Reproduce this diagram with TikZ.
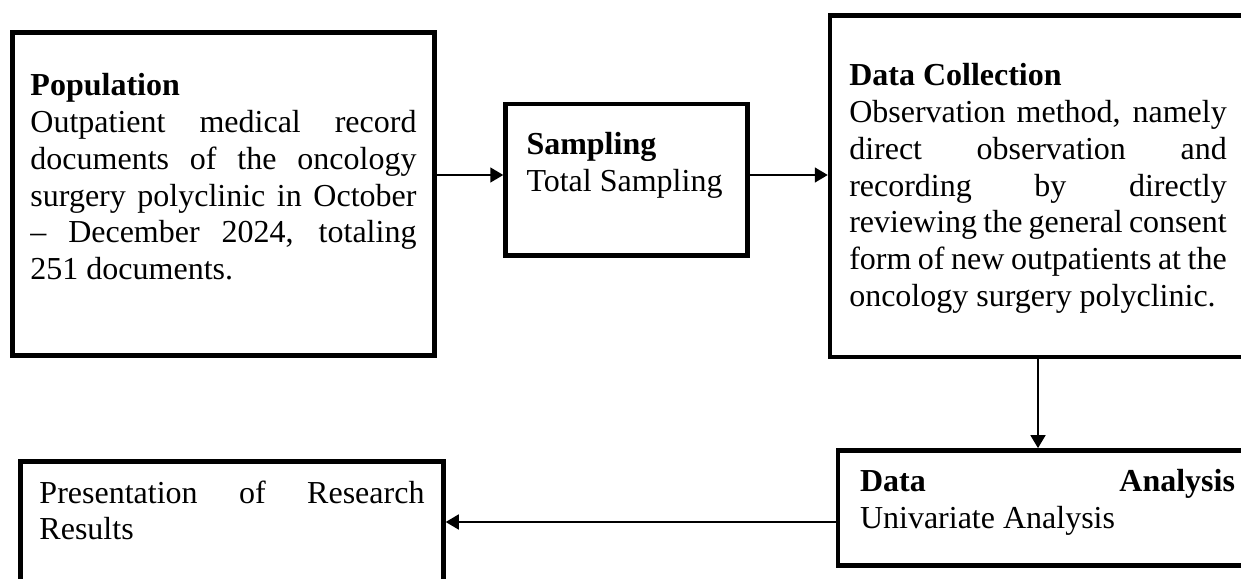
\documentclass[tikz,border=0pt]{standalone}
\usepackage{fontspec}
\setmainfont{Liberation Serif}
\usepackage{tikz}
\usetikzlibrary{arrows.meta,calc}
\tolerance=9999
\hfuzz=3pt
\tikzset{
  stage/.style={draw,line width=1.8pt,inner sep=0pt,align=justify,
    font=\fontsize{12.8}{14.7}\selectfont},
  flow/.style={-{Triangle[length=5.2pt,width=6pt]},line width=.7pt}
}

\begin{document}
\begin{tikzpicture}[x=.4pt,y=-.4pt]
  \useasboundingbox (0,0) rectangle (1241,579);
  \clip (0,0) rectangle (1241,579);
  \node[stage,minimum width=168.8pt,text width=154.4pt,text height=25.4pt,text depth=103.8pt] (pop) at (223.5,194)
    {\textbf{Population}\\ Outpatient medical record\linebreak documents of the oncology\linebreak surgery polyclinic in October\linebreak -- December 2024, totaling\linebreak 251 documents.};
  \node[stage,minimum width=96.8pt,text width=80pt,text height=20.4pt,text depth=40.2pt] (smp) at (626.5,179.75)
    {\textbf{Sampling}\\ Total Sampling};
  \node[stage,minimum width=166.4pt,text width=151pt,text height=28.2pt,text depth=108.4pt] (col) at (1038,186.25)
    {\textbf{Data Collection}\\ Observation method, namely\linebreak direct observation and\linebreak recording by directly\linebreak reviewing the general consent\linebreak form of new outpatients at the\linebreak oncology surgery polyclinic.};
  \node[stage,minimum width=167.6pt,text width=150pt,text height=16.5pt,text depth=29.6pt] (ana) at (1047.5,508)
    {\textbf{Data Analysis}\linebreak Univariate Analysis};
  \node[stage,minimum width=169.2pt,text width=154pt,text height=16.6pt,text depth=38.8pt] (res) at (232,530.75)
    {Presentation of Research\linebreak Results};
  % arrow levels
  \coordinate (ab) at (0,175);
  \coordinate (de) at (0,522);
  \draw[flow] (ab -| pop.east) -- (ab -| smp.west);
  \draw[flow] (ab -| smp.east) -- (ab -| col.west);
  \draw[flow] (col.south) -- (col.south |- ana.north);
  \draw[flow] (de -| ana.west) -- (de -| res.east);
\end{tikzpicture}
\end{document}
